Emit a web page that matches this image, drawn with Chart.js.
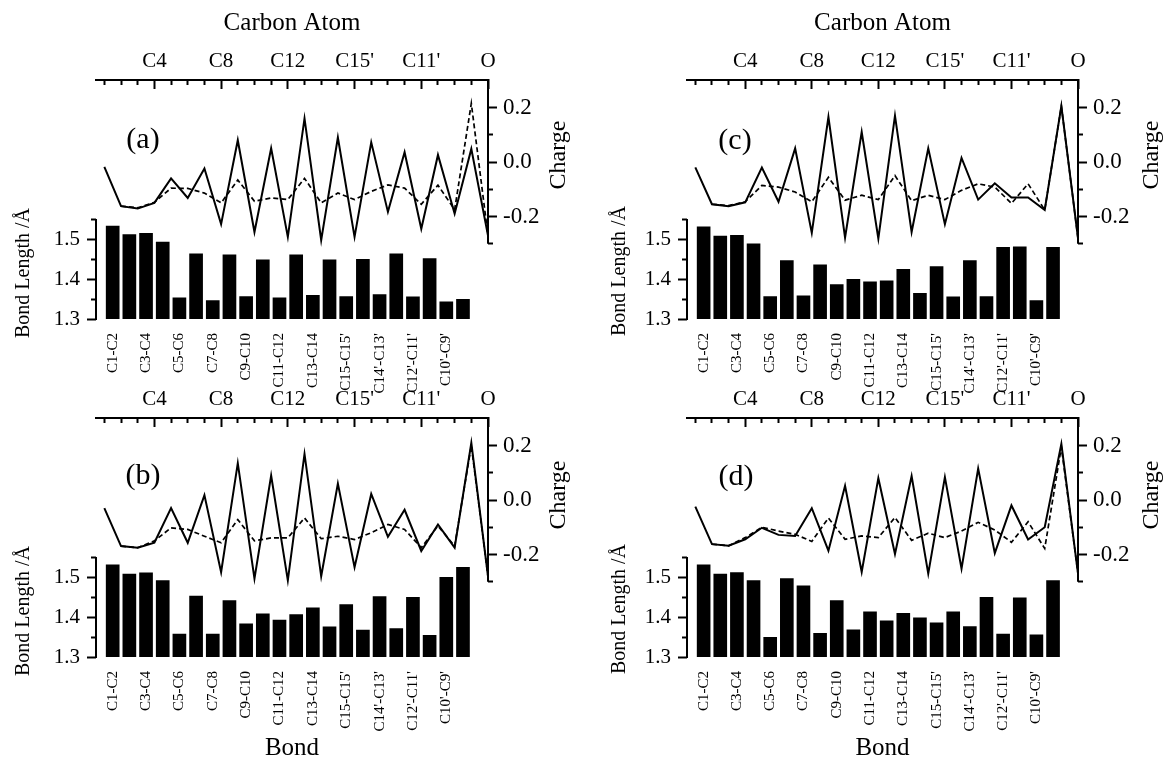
<!DOCTYPE html>
<html>
<head>
<meta charset="utf-8">
<script src="https://cdn.jsdelivr.net/npm/chart.js@4.4.1/dist/chart.umd.min.js"></script>
<style>
  html, body { margin: 0; padding: 0; background: #fff; }
  body { width: 1164px; height: 758px; position: relative; overflow: hidden;
         font-family: 'Liberation Serif', 'Times New Roman', serif; color: #000; }
  canvas { position: absolute; }
  .lbl { position: absolute; white-space: nowrap; line-height: 1; transform: translate(-50%, -50%); }
  .rot { transform: translate(-50%, -50%) rotate(-90deg); }
</style>
</head>
<body>
<canvas id="pa" width="591" height="400" style="left:0;top:0"></canvas>
<canvas id="pb" width="591" height="420" style="left:0;top:338px"></canvas>
<canvas id="pc" width="573" height="400" style="left:591px;top:0"></canvas>
<canvas id="pd" width="573" height="420" style="left:591px;top:338px"></canvas>

<div class="lbl rot" style="left:22px;top:273px;font-size:20px">Bond Length /Å</div>
<div class="lbl rot" style="left:22px;top:611px;font-size:20px">Bond Length /Å</div>
<div class="lbl rot" style="left:618px;top:271px;font-size:20px">Bond Length /Å</div>
<div class="lbl rot" style="left:618px;top:609px;font-size:20px">Bond Length /Å</div>
<div class="lbl rot" style="left:557px;top:155px;font-size:24px">Charge</div>
<div class="lbl rot" style="left:557px;top:495px;font-size:24px">Charge</div>
<div class="lbl rot" style="left:1150px;top:155px;font-size:24px">Charge</div>
<div class="lbl rot" style="left:1150px;top:495px;font-size:24px">Charge</div>
<div class="lbl" style="left:143px;top:138px;font-size:30px">(a)</div>
<div class="lbl" style="left:143px;top:474px;font-size:30px">(b)</div>
<div class="lbl" style="left:735px;top:139px;font-size:30px">(c)</div>
<div class="lbl" style="left:736px;top:475px;font-size:30px">(d)</div>

<script>
// atoms along the top axis, bonds along the bottom
const atoms = ['C1','C2','C3','C4','C5','C6','C7','C8','C9','C10','C11','C12','C13','C14','C15',
  "C15'","C14'","C13'","C12'","C11'","C10'","C9'","C8'",'O'];
const bonds = ['C1-C2','C2-C3','C3-C4','C4-C5','C5-C6','C6-C7','C7-C8','C8-C9','C9-C10','C10-C11',
  'C11-C12','C12-C13','C13-C14','C14-C15',"C15-C15'","C15'-C14'","C14'-C13'","C13'-C12'",
  "C12'-C11'","C11'-C10'","C10'-C9'","C9'-C8'"];
const bondTicks = [1.3, 1.35, 1.4, 1.45, 1.5, 1.55];
const chargeTicks = [-0.3, -0.2, -0.1, 0, 0.1, 0.2];

// (a)
const chargeSolidA = [-0.018, -0.162, -0.171, -0.150, -0.060, -0.132, -0.024, -0.228, 0.080, -0.257, 0.050, -0.275,
  0.160, -0.287, 0.090, -0.275, 0.072, -0.183, 0.036, -0.245, 0.026, -0.190, 0.048, -0.27];
const chargeDashA = [null, -0.162, -0.168, -0.148, -0.096, -0.097, -0.114, -0.150, -0.066, -0.144, -0.132, -0.138,
  -0.060, -0.150, -0.114, -0.138, -0.108, -0.084, -0.096, -0.155, -0.085, -0.175, 0.215, -0.27];
const bondLenA = [1.533, 1.512, 1.515, 1.493, 1.354, 1.464, 1.347, 1.461, 1.357, 1.449, 1.354, 1.461,
  1.360, 1.449, 1.357, 1.450, 1.362, 1.464, 1.356, 1.452, 1.344, 1.350];

// (b)
const chargeSolidB = [-0.030, -0.169, -0.175, -0.157, -0.030, -0.157, 0.018, -0.265, 0.135, -0.289, 0.090, -0.295,
  0.169, -0.280, 0.060, -0.247, 0.022, -0.135, -0.036, -0.187, -0.090, -0.175, 0.210, -0.28];
const chargeDashB = [null, -0.169, -0.175, -0.150, -0.102, -0.108, -0.133, -0.157, -0.072, -0.150, -0.139, -0.139,
  -0.066, -0.142, -0.133, -0.145, -0.120, -0.090, -0.108, -0.175, -0.095, -0.169, 0.200, -0.28];
const bondLenB = [1.531, 1.508, 1.511, 1.492, 1.358, 1.453, 1.358, 1.442, 1.384, 1.409, 1.393, 1.407,
  1.424, 1.376, 1.432, 1.368, 1.452, 1.372, 1.450, 1.355, 1.500, 1.525];

// (c)
const chargeSolidC = [-0.020, -0.155, -0.162, -0.148, -0.020, -0.146, 0.050, -0.260, 0.165, -0.278, 0.110, -0.281,
  0.170, -0.257, 0.050, -0.228, 0.015, -0.138, -0.078, -0.130, -0.130, -0.176, 0.205, -0.28];
const chargeDashC = [null, -0.155, -0.160, -0.146, -0.086, -0.092, -0.110, -0.146, -0.056, -0.140, -0.122, -0.138,
  -0.050, -0.142, -0.122, -0.138, -0.104, -0.080, -0.092, -0.152, -0.080, -0.176, 0.205, -0.28];
const bondLenC = [1.531, 1.508, 1.510, 1.489, 1.357, 1.447, 1.359, 1.436, 1.387, 1.400, 1.394, 1.396,
  1.425, 1.365, 1.432, 1.356, 1.447, 1.357, 1.480, 1.481, 1.347, 1.480];

// (d)
const chargeSolidD = [-0.024, -0.162, -0.168, -0.144, -0.102, -0.128, -0.132, -0.030, -0.186, 0.052, -0.264, 0.080,
  -0.198, 0.088, -0.270, 0.084, -0.252, 0.115, -0.195, -0.020, -0.145, -0.100, 0.206, -0.27];
const chargeDashD = [null, -0.162, -0.168, -0.138, -0.100, -0.114, -0.126, -0.152, -0.066, -0.144, -0.132, -0.138,
  -0.064, -0.148, -0.122, -0.138, -0.114, -0.082, -0.110, -0.155, -0.080, -0.178, 0.195, -0.27];
const bondLenD = [1.531, 1.508, 1.512, 1.492, 1.350, 1.497, 1.479, 1.360, 1.442, 1.369, 1.414, 1.391,
  1.410, 1.399, 1.386, 1.414, 1.377, 1.450, 1.358, 1.449, 1.356, 1.492];

Chart.defaults.font.family = "'Liberation Serif', 'Times New Roman', serif";
Chart.defaults.color = '#000';

// plot box inside each canvas
const TOP = 80, BASE = 319, LEFT = 96;
const ZERO_Y = 162, PX_CHARGE = 272.5, PX_BOND = 400;

// the two y axes only run over part of the height
const axisLines = {
  id: 'axisLines',
  afterDatasetsDraw(chart) {
    const { ctx, chartArea } = chart;
    const yb = chart.scales.yb, yc = chart.scales.yc;
    ctx.save();
    ctx.strokeStyle = '#000';
    ctx.lineWidth = 2;
    ctx.beginPath();
    ctx.moveTo(chartArea.left, yb.getPixelForValue(1.3) + 1);
    ctx.lineTo(chartArea.left, yb.getPixelForValue(1.55));
    ctx.moveTo(chartArea.right, chartArea.top);
    ctx.lineTo(chartArea.right, yc.getPixelForValue(-0.3));
    ctx.stroke();
    ctx.restore();
  }
};

const isMajorAtom = c => c.tick && c.tick.value % 4 === 0;
const isMajorBond = c => c.tick && Math.round(c.tick.value * 100) % 10 === 0;
const isMajorCharge = c => c.tick && Math.round(c.tick.value * 10) % 2 === 0;

function makePanel(id, solid, dashed, lengths, showTop, showBottom) {
  const canvas = document.getElementById(id);
  const rightEdge = canvas.width > 580 ? 488 : 487;
  new Chart(canvas, {
    type: 'bar',
    data: {
      datasets: [
        { type: 'line', data: solid.map((v, i) => ({ x: i + 1, y: v })), xAxisID: 'xt', yAxisID: 'yc',
          borderColor: '#000', borderWidth: 2, pointRadius: 0, tension: 0, order: 0 },
        { type: 'line', data: dashed.map((v, i) => ({ x: i + 1, y: v })), xAxisID: 'xt', yAxisID: 'yc',
          borderColor: '#000', borderWidth: 1.7, borderDash: [5, 3], pointRadius: 0, tension: 0, order: 0 },
        { type: 'bar', data: lengths.map((v, i) => ({ x: i + 1.5, y: v })), xAxisID: 'xb', yAxisID: 'yb',
          backgroundColor: '#000', grouped: false, barPercentage: 0.82, categoryPercentage: 1, order: 1 }
      ]
    },
    options: {
      responsive: false,
      animation: false,
      devicePixelRatio: 1,
      layout: { padding: 0 },
      plugins: { legend: { display: false }, tooltip: { enabled: false } },
      scales: {
        xt: {
          type: 'linear', position: 'top', min: 0.5, max: 24, offset: false,
          afterBuildTicks: s => { s.ticks = atoms.map((a, i) => ({ value: i + 1 })); },
          afterFit: s => { s.height = TOP; },
          ticks: { autoSkip: false, maxRotation: 0, padding: 15, font: { size: 21 },
                   callback: v => (v % 4 === 0 ? atoms[v - 1] : '') },
          grid: { offset: false, drawOnChartArea: false, tickLength: -9, tickWidth: 2, tickColor: '#000',
                  tickBorderDash: c => (isMajorAtom(c) ? [] : [5, 4]),
                  tickBorderDashOffset: c => (isMajorAtom(c) ? 0 : 5) },
          border: { display: true, width: 2, color: '#000' },
          title: { display: showTop, text: 'Carbon Atom', font: { size: 25 }, padding: { top: 8, bottom: 0 } }
        },
        xb: {
          type: 'linear', position: 'bottom', min: 0.5, max: 24, offset: false,
          afterBuildTicks: s => { s.ticks = bonds.map((b, i) => ({ value: i + 1.5 })).filter((t, i) => i % 2 === 0); },
          afterFit: s => { s.height = canvas.height - BASE; },
          ticks: { autoSkip: false, minRotation: 90, maxRotation: 90, padding: 14, font: { size: 15 },
                   callback: v => bonds[Math.round(v - 1.5)] },
          grid: { offset: false, display: false, drawTicks: false },
          border: { display: false },
          title: { display: showBottom, text: 'Bond', font: { size: 25, lineHeight: 1 }, padding: { top: 0, bottom: -3 } }
        },
        yb: {
          type: 'linear', position: 'left', min: 1.3, max: 1.3 + (BASE - TOP) / PX_BOND,
          afterBuildTicks: s => { s.ticks = bondTicks.map(v => ({ value: v })); },
          afterFit: s => { s.width = LEFT; },
          ticks: { autoSkip: false, padding: 7, font: { size: 21 },
                   callback: v => (Math.round(v * 100) % 10 === 0 ? v.toFixed(1) : '') },
          grid: { drawOnChartArea: false, tickLength: 9, tickWidth: 2, tickColor: '#000',
                  tickBorderDash: c => (isMajorBond(c) ? [] : [5, 4]),
                  tickBorderDashOffset: c => (isMajorBond(c) ? 0 : 5) },
          border: { display: false }
        },
        yc: {
          type: 'linear', position: 'right',
          min: -(BASE - ZERO_Y) / PX_CHARGE, max: (ZERO_Y - TOP) / PX_CHARGE,
          afterBuildTicks: s => { s.ticks = chargeTicks.map(v => ({ value: v })); },
          afterFit: s => { s.width = canvas.width - rightEdge; },
          ticks: { autoSkip: false, padding: 6, font: { size: 23 },
                   callback: v => (Math.round(v * 10) % 2 === 0 ? v.toFixed(1) : '') },
          grid: { drawOnChartArea: false, tickLength: 9, tickWidth: 2, tickColor: '#000',
                  tickBorderDash: c => (isMajorCharge(c) ? [] : [5, 20]) },
          border: { display: false }
        }
      }
    },
    plugins: [axisLines]
  });
}

makePanel('pa', chargeSolidA, chargeDashA, bondLenA, true, false);
makePanel('pb', chargeSolidB, chargeDashB, bondLenB, false, true);
makePanel('pc', chargeSolidC, chargeDashC, bondLenC, true, false);
makePanel('pd', chargeSolidD, chargeDashD, bondLenD, false, true);
</script>
</body>
</html>
